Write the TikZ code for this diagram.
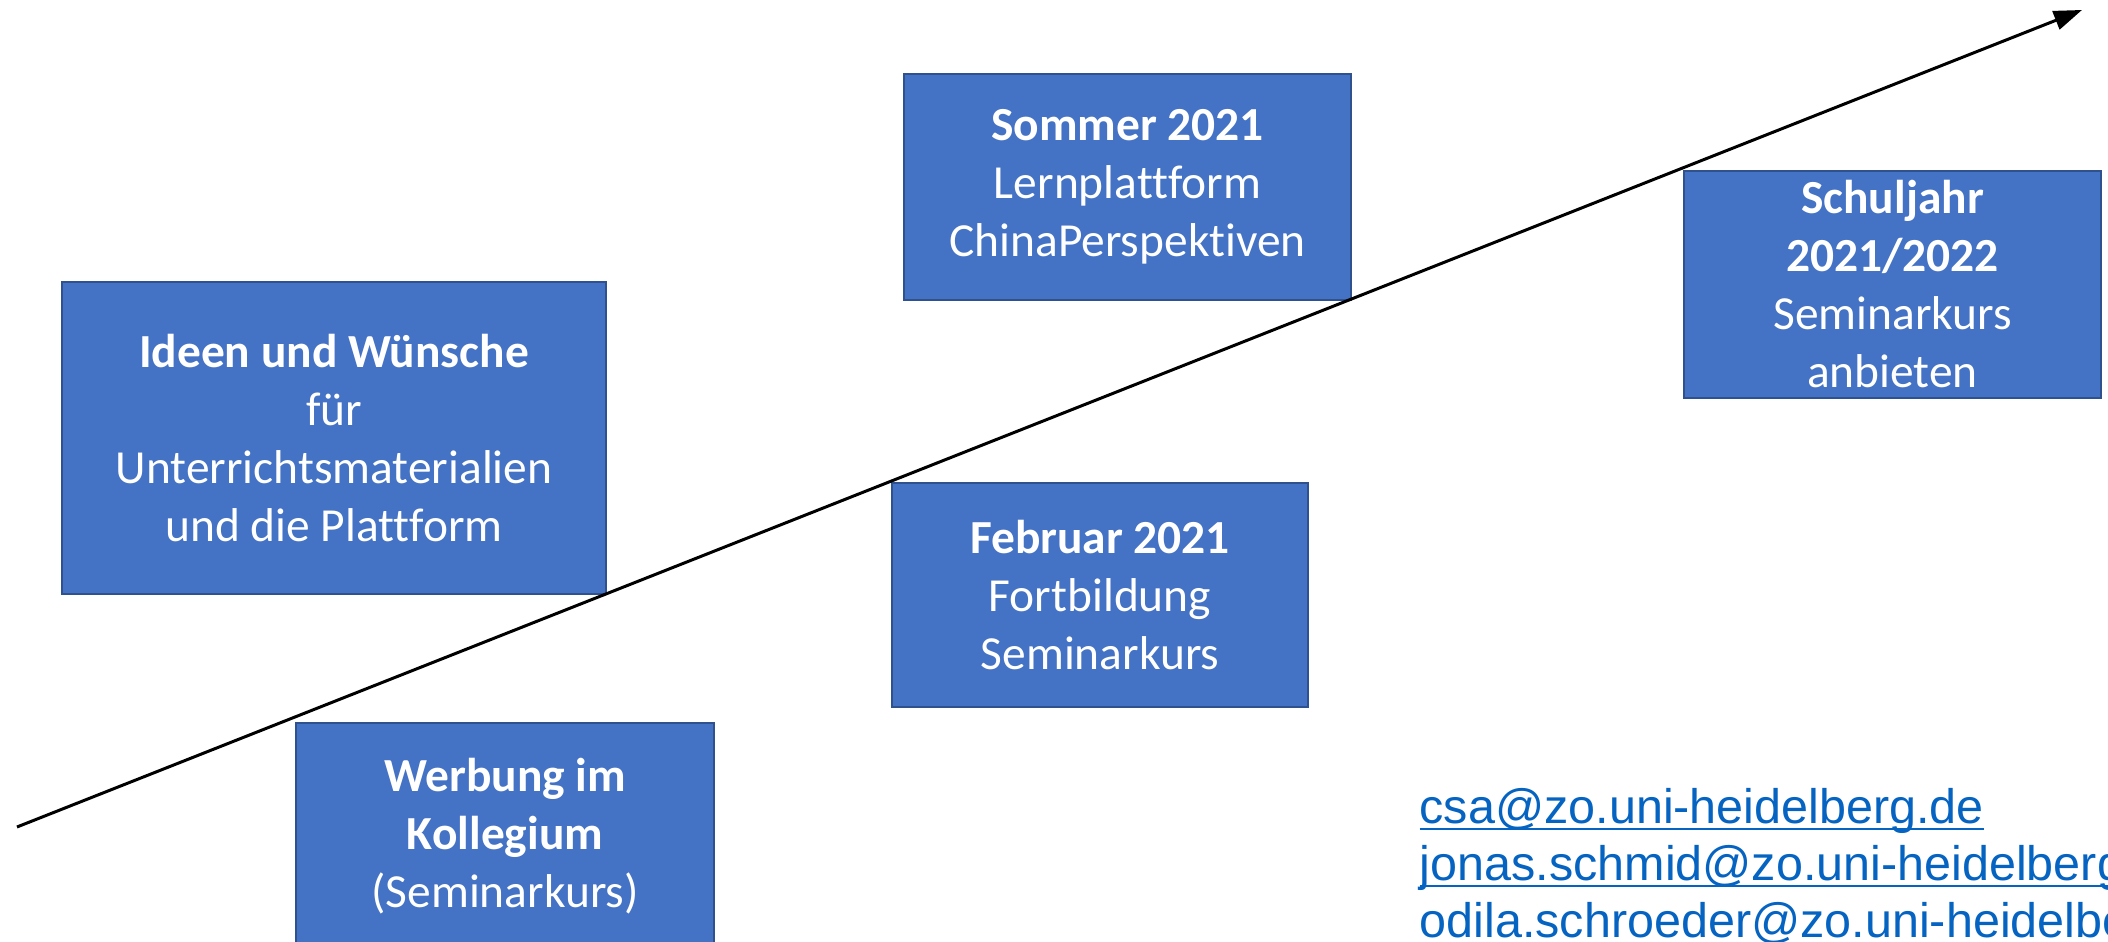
\documentclass[tikz,border=0pt]{standalone}
\usepackage{fontspec}
\setmainfont{Carlito}[Ligatures=NoCommon]
\newfontfamily\mailfont{Liberation Sans}
\usetikzlibrary{arrows.meta}
\definecolor{boxblue}{HTML}{4472C4}
\definecolor{boxedge}{HTML}{2F528F}
\definecolor{mailblue}{HTML}{0563C1}
\tikzset{
  stage/.style={rectangle, fill=boxblue, draw=boxedge, line width=0.8pt, text=white,
    align=center, inner sep=0pt, font=\fontsize{13.5}{16.5}\selectfont},
  mail/.style={anchor=base west, inner sep=0pt, text=mailblue,
    font=\mailfont\fontsize{13.8}{16.2}\selectfont}
}
\newcommand{\mailline}[1]{\underline{\smash{#1}}}
\begin{document}
\begin{tikzpicture}
            \useasboundingbox (0, 0) rectangle (21.08, 9.42);

            \coordinate (start) at (0.17, 1.15);
            \coordinate (tip) at (20.82, 9.32);

            \node[stage, minimum width=5.44cm, minimum height=3.12cm] (ideen) at (3.34, 5.04)
                {\textbf{Ideen und Wünsche}\\für\\Unterrichtsmaterialien\\und die Plattform};
            \node[stage, minimum width=4.18cm, minimum height=2.27cm] (werbung) at (5.05, 1.055)
                {\textbf{Werbung im}\\\textbf{Kollegium}\\(Seminarkurs)};
            \node[stage, minimum width=4.16cm, minimum height=2.24cm] (februar) at (11.00, 3.47)
                {\textbf{Februar 2021}\\Fortbildung\\Seminarkurs};
            \node[stage, minimum width=4.47cm, minimum height=2.26cm] (sommer) at (11.275, 7.55)
                {\textbf{Sommer 2021}\\Lernplattform\\ChinaPerspektiven};
            \node[stage, minimum width=4.17cm, minimum height=2.27cm] (schuljahr) at (18.925, 6.575)
                {\textbf{Schuljahr}\\\textbf{2021/2022}\\Seminarkurs\\anbieten};

            \draw[line width=0.85pt, -{Triangle[length=8pt, width=5.5pt]}] (start) -- (tip);

            \node[mail] (csa) at (14.19, 1.18) {\mailline{csa@zo.uni-heidelberg.de}};
            \node[mail] (jonas) at (14.19, 0.61) {\mailline{jonas.schmid@zo.uni-heidelberg.de}};
            \node[mail] (odila) at (14.19, 0.04) {\mailline{odila.schroeder@zo.uni-heidelberg.de}};
        \end{tikzpicture}
\end{document}
